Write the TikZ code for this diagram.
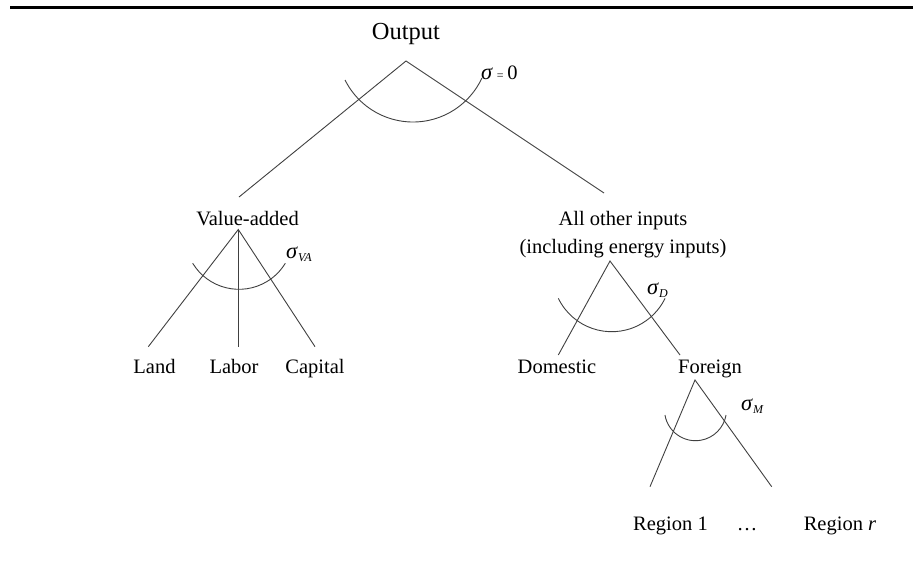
\documentclass[tikz,border=0pt]{standalone}
\usepackage{fontspec}
\setmainfont{Liberation Serif}
\newcommand{\sbs}[1]{\raisebox{-3pt}{\fontsize{12}{12}\selectfont\itshape #1}}
\begin{document}
\begin{tikzpicture}[x=1pt,y=-1pt,
  lbl/.style={inner sep=0pt, anchor=base, font=\fontsize{20.5}{24}\selectfont},
  sig/.style={inner sep=0pt, anchor=base west, font=\fontsize{22.5}{26}\selectfont},
  edge/.style={draw=black!75, line width=0.9pt},
  elas/.style={draw=black!75, line width=0.9pt}]
\useasboundingbox (0,0) rectangle (913,566);
\coordinate (tl) at (10,7.5);
\coordinate (tr) at (913,7.5);
\draw[line width=2.5pt] (tl) -- (tr);

% labels
\node[lbl, font=\fontsize{24.5}{28}\selectfont] (out) at (406,39) {Output};
\node[lbl] (va) at (247.5,225) {Value-added};
\node[lbl] (ao1) at (623,225) {All other inputs};
\node[lbl] (ao2) at (623,253) {(including energy inputs)};
\node[lbl] (land) at (154.5,373) {Land};
\node[lbl] (labor) at (234,373) {Labor};
\node[lbl] (cap) at (315,373) {Capital};
\node[lbl] (dom) at (557,373) {Domestic};
\node[lbl] (for) at (710,373) {Foreign};
\node[lbl] (r1) at (670.5,530) {Region 1};
\node[lbl] (dots) at (747,530) {\dots};
\node[lbl] (rr) at (840,530) {Region \textit{r}};

% sigma labels
\node[sig] (s0) at (481,79) {\textit{σ}\,{\fontsize{12}{12}\selectfont =}\,{\fontsize{20.5}{24}\selectfont 0}};
\node[sig] (sva) at (286,258) {\textit{σ}\sbs{VA}};
\node[sig] (sd) at (647,294) {\textit{σ}\sbs{D}};
\node[sig] (sm) at (741,410) {\textit{σ}\sbs{M}};

% apexes and line ends
\coordinate (aO) at (406,61);
\coordinate (eOL) at (239,197);
\coordinate (eOR) at (604,193);
\coordinate (aVA) at (238.3,229.5);
\coordinate (eLand) at (148.3,346.7);
\coordinate (eLabor) at (238.3,346.7);
\coordinate (eCap) at (315,346.7);
\coordinate (aD) at (610,261);
\coordinate (eDom) at (558.3,355);
\coordinate (eFor) at (680,355);
\coordinate (aM) at (695,380);
\coordinate (eR1) at (650,486.7);
\coordinate (eRr) at (771.7,486.7);

\draw[edge] (eOL) -- (aO) -- (eOR);
\draw[edge] (eLand) -- (aVA) -- (eCap);
\draw[edge] (aVA) -- (eLabor);
\draw[edge] (eDom) -- (aD) -- (eFor);
\draw[edge] (eR1) -- (aM) -- (eRr);

% elasticity arcs
\coordinate (cO) at (413,46);
\coordinate (cVA) at (239,235.1);
\coordinate (cD) at (611.7,272.3);
\coordinate (cM) at (695.5,409.7);
\draw[elas] ([shift={(153.4:76)}]cO) arc[start angle=153.4, end angle=24.9, radius=76];
\draw[elas] ([shift={(148.7:54.2)}]cVA) arc[start angle=148.7, end angle=31.3, radius=54.2];
\draw[elas] ([shift={(154:59.4)}]cD) arc[start angle=154, end angle=26, radius=59.4];
\draw[elas] ([shift={(170.1:31)}]cM) arc[start angle=170.1, end angle=9.9, radius=31];
\end{tikzpicture}
\end{document}
